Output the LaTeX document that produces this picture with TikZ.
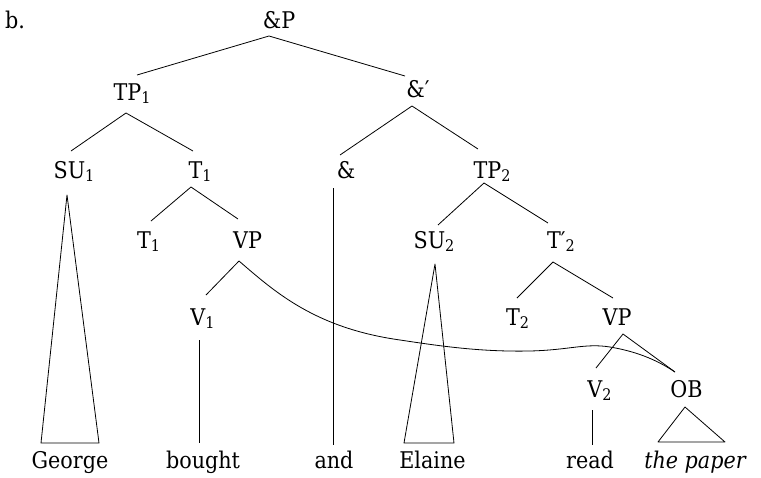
\documentclass[tikz,border=0pt]{standalone}
\usepackage{fontspec}
\setmainfont{DejaVu Serif Condensed}
\newcommand{\lsub}[1]{\raisebox{-0.3ex}{\fontsize{16}{16}\selectfont #1}}
\begin{document}
\begin{tikzpicture}[x=1pt,y=-1pt,
  lab/.style={anchor=base, inner sep=0pt, font=\fontsize{23}{28}\selectfont},
  br/.style={line width=0.8pt, line join=round}]
\useasboundingbox (0,0) rectangle (761,477);
% labels
\node[lab, anchor=base west] (b) at (5,28) {b.};
\node[lab] (aP) at (279,28) {\&P};
\node[lab] (TP1) at (132,100) {TP\lsub{1}};
\node[lab] (aPr) at (418,97) {\&′};
\node[lab] (SU1) at (74,178) {SU\lsub{1}};
\node[lab] (T1a) at (200,178) {T\lsub{1}};
\node[lab] (amp) at (346,178) {\&};
\node[lab] (TP2) at (492,178) {TP\lsub{2}};
\node[lab] (T1b) at (148.5,248) {T\lsub{1}};
\node[lab] (VP1) at (247.5,248) {VP};
\node[lab] (SU2) at (434,248) {SU\lsub{2}};
\node[lab] (T2p) at (561,248) {T′\lsub{2}};
\node[lab] (V1) at (202.5,325) {V\lsub{1}};
\node[lab] (T2) at (517.5,325) {T\lsub{2}};
\node[lab] (VP2) at (617,325) {VP};
\node[lab] (V2) at (599.5,397) {V\lsub{2}};
\node[lab] (OB) at (686.5,397) {OB};
\node[lab] (George) at (70,468) {George};
\node[lab] (bought) at (203,468) {bought};
\node[lab] (and) at (334,468) {and};
\node[lab] (Elaine) at (432.5,468) {Elaine};
\node[lab] (read) at (590,468) {read};
\node[lab] (paper) at (695,468) {\itshape the paper};
% branches
\draw[br] ([shift={(5,-25)}]TP1.base) -- ([shift={(-10,8)}]aP.base) -- ([shift={(-13,-21)}]aPr.base);
\draw[br] ([shift={(-3,-27)}]SU1.base) -- ([shift={(-6,13)}]TP1.base) -- ([shift={(-7,-27)}]T1a.base);
\draw[br] ([shift={(-6,-23)}]amp.base) -- ([shift={(-6,9)}]aPr.base) -- ([shift={(-14,-29)}]TP2.base);
\draw[br] ([shift={(2.5,-27)}]T1b.base) -- ([shift={(-9,9)}]T1a.base) -- ([shift={(-9.5,-29)}]VP1.base);
\draw[br] ([shift={(4,-23)}]SU2.base) -- ([shift={(-8,5)}]TP2.base) -- ([shift={(-13,-25)}]T2p.base);
\draw[br] ([shift={(-13,10)}]amp.base) -- ([shift={(-1,-23)}]and.base);
\draw[br] ([shift={(3.5,-30)}]V1.base) -- ([shift={(-8.5,13)}]VP1.base);
\draw[br] ([shift={(-3.5,15)}]V1.base) -- ([shift={(-4,-25)}]bought.base);
\draw[br] ([shift={(-0.5,-27)}]T2.base) -- ([shift={(-8,14)}]T2p.base) -- ([shift={(-4,-27)}]VP2.base);
\draw[br] ([shift={(-3.5,-29)}]V2.base) -- ([shift={(6,9)}]VP2.base) -- ([shift={(-11.5,-25)}]OB.base);
\draw[br] ([shift={(-7.5,13)}]V2.base) -- ([shift={(2,-23)}]read.base);
% triangles
\draw[br] ([shift={(-7,17)}]SU1.base) -- ([shift={(-29,-25)}]George.base) -- ([shift={(29,-25)}]George.base) -- cycle;
\draw[br] ([shift={(1,16)}]SU2.base) -- ([shift={(-28.5,-25)}]Elaine.base) -- ([shift={(21.5,-25)}]Elaine.base) -- cycle;
\draw[br] ([shift={(-1.5,10)}]OB.base) -- ([shift={(-37,-26)}]paper.base) -- ([shift={(30,-26)}]paper.base) -- cycle;
% movement curve
\draw[br] ([shift={(-8.5,13)}]VP1.base)
  .. controls (275,292) and (315,328) .. (400,340)
  .. controls (440,346) and (480,352) .. (530,351)
  .. controls (570,350) and (585,343) .. (610,347)
  .. controls (640,352) and (660,362) .. ([shift={(-11.5,-25)}]OB.base);
\end{tikzpicture}
\end{document}
